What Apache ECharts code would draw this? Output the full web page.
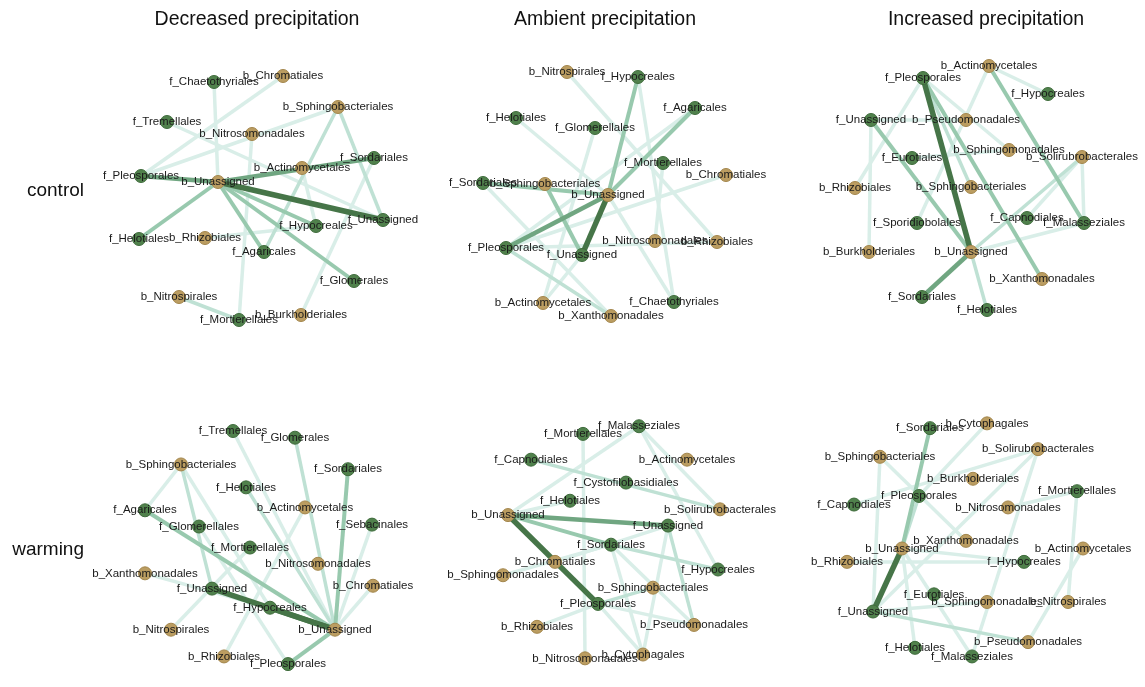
<!DOCTYPE html>
<html>
<head>
<meta charset="utf-8">
<title>Co-occurrence networks</title>
<script src="https://cdn.jsdelivr.net/npm/echarts@6.0.0/dist/echarts.min.js"></script>
<style>
  html, body { margin: 0; padding: 0; background: #fff; }
  #main { width: 1145px; height: 687px; }
</style>
</head>
<body>
<div id="main"></div>
<script>
  // column / row headings
  var colTitles = ['Decreased precipitation', 'Ambient precipitation', 'Increased precipitation']
  var rowTitles = ['control', 'warming']

  // nodes: [name, x, y] in panel units
  var nodesCtrlDec = [
    ['f_Chaetothyriales', 114, 32], ['b_Chromatiales', 183, 26], ['b_Sphingobacteriales', 238, 57],
    ['f_Tremellales', 67, 72], ['b_Nitrosomonadales', 152, 84], ['f_Sordariales', 274, 108],
    ['b_Actinomycetales', 202, 118], ['f_Pleosporales', 41, 126], ['b_Unassigned', 118, 132],
    ['f_Unassigned', 283, 170], ['f_Hypocreales', 216, 176], ['f_Helotiales', 39, 189],
    ['b_Rhizobiales', 105, 188], ['f_Agaricales', 164, 202], ['f_Glomerales', 254, 231],
    ['b_Nitrospirales', 79, 247], ['b_Burkholderiales', 201, 265], ['f_Mortierellales', 139, 270]
  ]
  var nodesCtrlAmb = [
    ['b_Nitrospirales', 127, 22], ['f_Hypocreales', 198, 27], ['f_Agaricales', 255, 58],
    ['f_Helotiales', 76, 68], ['f_Glomerellales', 155, 78], ['f_Mortierellales', 223, 113],
    ['b_Chromatiales', 286, 125], ['f_Sordariales', 43, 133], ['b_Sphingobacteriales', 105, 134],
    ['b_Unassigned', 168, 145], ['b_Nitrosomonadales', 215, 191], ['b_Rhizobiales', 277, 192],
    ['f_Pleosporales', 66, 198], ['f_Unassigned', 142, 205], ['b_Actinomycetales', 103, 253],
    ['f_Chaetothyriales', 234, 252], ['b_Xanthomonadales', 171, 266]
  ]
  var nodesCtrlInc = [
    ['b_Actinomycetales', 194, 16], ['f_Pleosporales', 128, 28], ['f_Hypocreales', 253, 44],
    ['f_Unassigned', 76, 70], ['b_Pseudomonadales', 171, 70], ['f_Eurotiales', 117, 108],
    ['b_Sphingomonadales', 214, 100], ['b_Solirubrobacterales', 287, 107], ['b_Rhizobiales', 60, 138],
    ['b_Sphingobacteriales', 176, 137], ['f_Sporidiobolales', 122, 173], ['f_Capnodiales', 232, 168],
    ['f_Malasseziales', 289, 173], ['b_Burkholderiales', 74, 202], ['b_Unassigned', 176, 202],
    ['b_Xanthomonadales', 247, 229], ['f_Sordariales', 127, 247], ['f_Helotiales', 192, 260]
  ]
  var nodesWarmDec = [
    ['f_Tremellales', 133, 22], ['f_Glomerales', 195, 29], ['b_Sphingobacteriales', 81, 57],
    ['f_Sordariales', 248, 62], ['f_Helotiales', 146, 81], ['b_Actinomycetales', 205, 102],
    ['f_Agaricales', 45, 105], ['f_Sebacinales', 272, 120], ['f_Glomerellales', 99, 122],
    ['f_Mortierellales', 150, 144], ['b_Nitrosomonadales', 218, 161], ['b_Xanthomonadales', 45, 171],
    ['b_Chromatiales', 273, 184], ['f_Unassigned', 112, 187], ['f_Hypocreales', 170, 207],
    ['b_Nitrospirales', 71, 230], ['b_Unassigned', 235, 230], ['b_Rhizobiales', 124, 258],
    ['f_Pleosporales', 188, 266]
  ]
  var nodesWarmAmb = [
    ['f_Malasseziales', 199, 17], ['f_Mortierellales', 143, 25], ['f_Capnodiales', 91, 52],
    ['b_Actinomycetales', 247, 52], ['f_Cystofilobasidiales', 186, 76], ['f_Helotiales', 130, 95],
    ['b_Solirubrobacterales', 280, 104], ['b_Unassigned', 68, 110], ['f_Unassigned', 228, 121],
    ['f_Sordariales', 171, 141], ['b_Chromatiales', 115, 159], ['f_Hypocreales', 278, 167],
    ['b_Sphingomonadales', 63, 173], ['b_Sphingobacteriales', 213, 186], ['f_Pleosporales', 158, 203],
    ['b_Rhizobiales', 97, 227], ['b_Pseudomonadales', 254, 225], ['b_Nitrosomonadales', 145, 260],
    ['b_Cytophagales', 203, 256]
  ]
  var nodesWarmInc = [
    ['b_Cytophagales', 192, 14], ['f_Sordariales', 135, 19], ['b_Solirubrobacterales', 243, 41],
    ['b_Sphingobacteriales', 85, 49], ['b_Burkholderiales', 178, 72], ['f_Mortierellales', 282, 85],
    ['f_Pleosporales', 124, 90], ['f_Capnodiales', 59, 99], ['b_Nitrosomonadales', 213, 102],
    ['b_Xanthomonadales', 171, 137], ['b_Unassigned', 107, 145], ['b_Actinomycetales', 288, 145],
    ['b_Rhizobiales', 52, 159], ['f_Hypocreales', 229, 159], ['f_Eurotiales', 139, 193],
    ['b_Sphingomonadales', 192, 201], ['b_Nitrospirales', 273, 201], ['f_Unassigned', 78, 211],
    ['b_Pseudomonadales', 233, 243], ['f_Helotiales', 120, 249], ['f_Malasseziales', 177, 258]
  ]

  // edges: [source, target, strength 1..5]
  var edgesCtrlDec = [
    ['f_Tremellales', 'f_Unassigned', 1], ['b_Unassigned', 'f_Chaetothyriales', 1],
    ['f_Pleosporales', 'b_Chromatiales', 1], ['f_Pleosporales', 'b_Sphingobacteriales', 1],
    ['f_Sordariales', 'b_Burkholderiales', 1], ['b_Nitrosomonadales', 'f_Mortierellales', 1],
    ['b_Rhizobiales', 'f_Hypocreales', 1], ['b_Actinomycetales', 'f_Hypocreales', 1],
    ['b_Sphingobacteriales', 'f_Unassigned', 2], ['b_Sphingobacteriales', 'f_Agaricales', 2],
    ['b_Nitrospirales', 'f_Mortierellales', 2],
    ['b_Unassigned', 'f_Helotiales', 3], ['b_Unassigned', 'f_Hypocreales', 3],
    ['b_Unassigned', 'f_Glomerales', 3], ['b_Unassigned', 'f_Agaricales', 3],
    ['b_Unassigned', 'f_Pleosporales', 4], ['b_Unassigned', 'f_Sordariales', 4],
    ['b_Unassigned', 'f_Unassigned', 5]
  ]
  var edgesCtrlAmb = [
    ['f_Helotiales', 'b_Unassigned', 1], ['b_Nitrospirales', 'b_Rhizobiales', 1],
    ['f_Hypocreales', 'f_Chaetothyriales', 1], ['f_Mortierellales', 'b_Nitrosomonadales', 1],
    ['b_Chromatiales', 'f_Pleosporales', 1], ['f_Pleosporales', 'b_Rhizobiales', 1],
    ['f_Unassigned', 'b_Actinomycetales', 1], ['f_Sordariales', 'b_Xanthomonadales', 1],
    ['f_Glomerellales', 'b_Actinomycetales', 1], ['f_Pleosporales', 'f_Agaricales', 1],
    ['b_Unassigned', 'f_Chaetothyriales', 1],
    ['f_Pleosporales', 'b_Xanthomonadales', 2], ['b_Sphingobacteriales', 'f_Unassigned', 3],
    ['b_Unassigned', 'f_Agaricales', 3], ['b_Unassigned', 'f_Hypocreales', 3],
    ['b_Unassigned', 'f_Sordariales', 3],
    ['b_Unassigned', 'f_Pleosporales', 4], ['b_Unassigned', 'f_Unassigned', 5]
  ]
  var edgesCtrlInc = [
    ['b_Solirubrobacterales', 'f_Capnodiales', 1], ['f_Malasseziales', 'b_Unassigned', 1],
    ['f_Malasseziales', 'b_Solirubrobacterales', 1], ['f_Unassigned', 'b_Burkholderiales', 1],
    ['f_Unassigned', 'b_Pseudomonadales', 1], ['f_Pleosporales', 'b_Rhizobiales', 1],
    ['b_Actinomycetales', 'f_Sporidiobolales', 1], ['b_Actinomycetales', 'f_Hypocreales', 1],
    ['f_Eurotiales', 'b_Sphingomonadales', 1], ['f_Pleosporales', 'b_Sphingomonadales', 1],
    ['b_Unassigned', 'f_Helotiales', 2], ['f_Pleosporales', 'b_Sphingobacteriales', 2],
    ['b_Solirubrobacterales', 'b_Unassigned', 2],
    ['b_Actinomycetales', 'f_Malasseziales', 3], ['f_Pleosporales', 'b_Xanthomonadales', 3],
    ['f_Unassigned', 'b_Unassigned', 3],
    ['b_Unassigned', 'f_Sordariales', 4], ['f_Pleosporales', 'b_Unassigned', 5]
  ]
  var edgesWarmDec = [
    ['b_Unassigned', 'f_Tremellales', 1], ['b_Unassigned', 'f_Sebacinales', 1],
    ['b_Unassigned', 'b_Chromatiales', 1], ['b_Sphingobacteriales', 'f_Agaricales', 1],
    ['b_Sphingobacteriales', 'f_Hypocreales', 1], ['f_Glomerellales', 'f_Pleosporales', 1],
    ['b_Xanthomonadales', 'f_Hypocreales', 1], ['b_Nitrospirales', 'f_Mortierellales', 1],
    ['b_Rhizobiales', 'b_Actinomycetales', 1],
    ['b_Sphingobacteriales', 'f_Unassigned', 2], ['b_Unassigned', 'f_Glomerales', 2],
    ['b_Unassigned', 'f_Helotiales', 2],
    ['b_Unassigned', 'f_Agaricales', 3], ['b_Unassigned', 'f_Sordariales', 3],
    ['b_Unassigned', 'f_Pleosporales', 3],
    ['b_Unassigned', 'f_Hypocreales', 5], ['b_Unassigned', 'f_Unassigned', 5]
  ]
  var edgesWarmAmb = [
    ['b_Unassigned', 'f_Helotiales', 1], ['b_Unassigned', 'f_Malasseziales', 1],
    ['f_Malasseziales', 'b_Solirubrobacterales', 1], ['f_Malasseziales', 'f_Hypocreales', 1],
    ['f_Mortierellales', 'b_Nitrosomonadales', 1], ['f_Sordariales', 'b_Cytophagales', 1],
    ['f_Sordariales', 'b_Pseudomonadales', 1], ['f_Unassigned', 'b_Cytophagales', 1],
    ['f_Unassigned', 'b_Chromatiales', 1], ['f_Pleosporales', 'b_Rhizobiales', 1],
    ['f_Pleosporales', 'b_Cytophagales', 1], ['f_Pleosporales', 'b_Pseudomonadales', 1],
    ['b_Sphingomonadales', 'f_Sordariales', 1],
    ['f_Capnodiales', 'b_Solirubrobacterales', 2], ['f_Sordariales', 'f_Hypocreales', 2],
    ['f_Unassigned', 'b_Pseudomonadales', 2], ['f_Pleosporales', 'b_Sphingobacteriales', 2],
    ['b_Unassigned', 'f_Sordariales', 3], ['b_Unassigned', 'f_Unassigned', 4],
    ['b_Unassigned', 'f_Pleosporales', 5]
  ]
  var edgesWarmInc = [
    ['f_Unassigned', 'b_Sphingobacteriales', 1], ['b_Unassigned', 'f_Hypocreales', 1],
    ['b_Unassigned', 'f_Helotiales', 1], ['b_Unassigned', 'f_Malasseziales', 1],
    ['f_Capnodiales', 'b_Solirubrobacterales', 1], ['b_Sphingobacteriales', 'b_Xanthomonadales', 1],
    ['b_Cytophagales', 'f_Pleosporales', 1], ['b_Solirubrobacterales', 'f_Unassigned', 1],
    ['b_Solirubrobacterales', 'f_Malasseziales', 1], ['f_Mortierellales', 'b_Nitrospirales', 1],
    ['f_Mortierellales', 'b_Nitrosomonadales', 1], ['b_Actinomycetales', 'b_Pseudomonadales', 1],
    ['f_Unassigned', 'b_Sphingomonadales', 1], ['b_Rhizobiales', 'f_Hypocreales', 1],
    ['b_Unassigned', 'f_Pleosporales', 2], ['f_Unassigned', 'b_Pseudomonadales', 2],
    ['b_Unassigned', 'f_Sordariales', 3], ['f_Unassigned', 'b_Unassigned', 5]
  ]

  var panels = [
    [nodesCtrlDec, edgesCtrlDec], [nodesCtrlAmb, edgesCtrlAmb], [nodesCtrlInc, edgesCtrlInc],
    [nodesWarmDec, edgesWarmDec], [nodesWarmAmb, edgesWarmAmb], [nodesWarmInc, edgesWarmInc]
  ]

  var colLeft = [100, 440, 795]
  var rowTop = [50, 410]
  var panelW = 350
  var panelH = 290
  var edgeColors = ['#d9eee8', '#bfe1d4', '#98c9ae', '#70a681', '#467548']
  var edgeWidths = [3.5, 3.5, 4, 4.5, 5.5]

  var chart = echarts.init(document.getElementById('main'))

  var grids = [], xAxes = [], yAxes = [], series = []
  panels.forEach(function (p, i) {
    var c = i % 3, r = Math.floor(i / 3)
    grids.push({ left: colLeft[c], top: rowTop[r], width: panelW, height: panelH })
    xAxes.push({ gridIndex: i, type: 'value', min: 0, max: panelW, show: false })
    yAxes.push({ gridIndex: i, type: 'value', min: 0, max: panelH, inverse: true, show: false })
    series.push({
      type: 'graph',
      coordinateSystem: 'cartesian2d',
      xAxisIndex: i,
      yAxisIndex: i,
      symbolSize: 13,
      label: {
        show: true,
        position: 'inside',
        fontSize: 11.5,
        color: '#1a1a1a',
        fontFamily: 'Liberation Sans, Arial, sans-serif'
      },
      data: p[0].map(function (n) {
        var bact = n[0].charAt(0) === 'b'
        return {
          name: n[0],
          value: [n[1], n[2]],
          itemStyle: {
            color: bact ? '#bb9d61' : '#50814c',
            borderColor: bact ? '#a3864c' : '#3f6c3c',
            borderWidth: 1
          }
        }
      }),
      links: p[1].map(function (e) {
        return {
          source: e[0],
          target: e[1],
          lineStyle: { color: edgeColors[e[2] - 1], width: edgeWidths[e[2] - 1], opacity: 1, curveness: 0 }
        }
      })
    })
  })

  var texts = []
  var colCenter = [257, 605, 986]
  colTitles.forEach(function (t, c) {
    texts.push({
      type: 'text', x: colCenter[c], y: 20,
      style: { text: t, fontSize: 19.5, fill: '#111', align: 'center', verticalAlign: 'middle',
        fontFamily: 'Liberation Sans, Arial, sans-serif' }
    })
  })
  var rowCenter = [191, 550]
  rowTitles.forEach(function (t, r) {
    texts.push({
      type: 'text', x: 84, y: rowCenter[r],
      style: { text: t, fontSize: 19, fill: '#111', align: 'right', verticalAlign: 'middle',
        fontFamily: 'Liberation Sans, Arial, sans-serif' }
    })
  })

  chart.setOption({
    animation: false,
    backgroundColor: '#fff',
    grid: grids,
    xAxis: xAxes,
    yAxis: yAxes,
    graphic: texts,
    series: series
  })
</script>
</body>
</html>
